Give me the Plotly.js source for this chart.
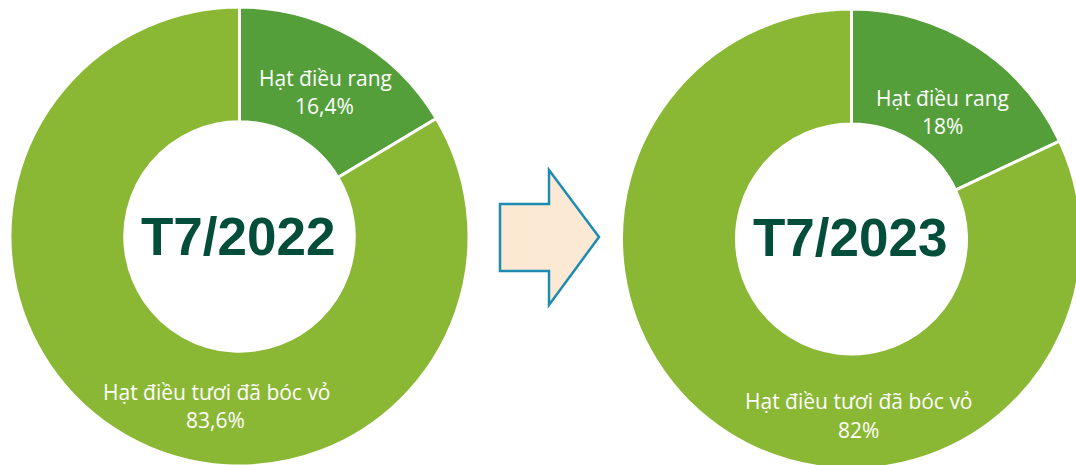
<!DOCTYPE html>
<html>
<head>
<meta charset="utf-8">
<script src="https://cdn.plot.ly/plotly-3.0.1.min.js"></script>
<style>
html, body { margin: 0; padding: 0; background: #ffffff; overflow: hidden; width: 1076px; height: 465px; }
#chart { width: 1084px; height: 472px; }
</style>
</head>
<body>
<div id="chart"></div>
<script>
// ---- data ----
const categories = ['Hạt điều rang', 'Hạt điều tươi đã bóc vỏ'];
const values2022 = [16.4, 83.6];
const values2023 = [18, 82];
const periodLabels = ['T7/2022', 'T7/2023'];
const sliceColors = ['#559F3B', '#8AB834'];

// ---- layout helpers (pixel -> paper) ----
const W = 1084, H = 472;
const px = x => x / W;
const py = y => 1 - y / H;
const fmt = v => String(v).replace('.', ',') + '%';

function donut(values, cx, cy, r) {
  return {
    type: 'pie',
    labels: categories,
    values: values,
    sort: false,
    direction: 'clockwise',
    rotation: 0,
    hole: 0.5,
    textinfo: 'none',
    hoverinfo: 'label+percent',
    showlegend: false,
    marker: { colors: sliceColors, line: { color: '#ffffff', width: 3 } },
    domain: { x: [px(cx - r), px(cx + r)], y: [py(cy + r), py(cy - r)] }
  };
}

const traces = [
  donut(values2022, 239.5, 236.5, 229.5),
  donut(values2023, 851.5, 239, 230)
];

const labelFont = { family: 'Open Sans, sans-serif', size: 21, color: '#ffffff' };
const centerFont = { family: 'Liberation Sans, Arial, sans-serif', size: 53, color: '#034E3A', weight: 700 };

function ann(text, x, y, font) {
  return { text: text, x: px(x), y: py(y), xref: 'paper', yref: 'paper',
           xanchor: 'center', yanchor: 'middle', showarrow: false, font: font };
}

const annotations = [
  ann(categories[0], 325, 78, labelFont),
  ann(fmt(values2022[0]), 324, 105.5, labelFont),
  ann(categories[1], 217, 391.5, labelFont),
  ann(fmt(values2022[1]), 215.5, 419.5, labelFont),
  ann(categories[0], 942.5, 98.5, labelFont),
  ann(fmt(values2023[0]), 942.5, 125.5, labelFont),
  ann(categories[1], 858.5, 400.5, labelFont),
  ann(fmt(values2023[1]), 858, 429.5, labelFont),
  ann(periodLabels[0], 237.5, 236.5, centerFont),
  ann(periodLabels[1], 849.7, 237.5, centerFont)
];

const arrowPts = [[500,204],[549,204],[549,170],[599,237],[549,305],[549,271],[500,271]];
const arrowPath = 'M ' + arrowPts.map(p => px(p[0]).toFixed(5) + ',' + py(p[1]).toFixed(5)).join(' L ') + ' Z';

const layout = {
  width: W, height: H,
  margin: { l: 0, r: 0, t: 0, b: 0, pad: 0 },
  paper_bgcolor: '#ffffff',
  plot_bgcolor: '#ffffff',
  showlegend: false,
  annotations: annotations,
  shapes: [{
    type: 'path', xref: 'paper', yref: 'paper', path: arrowPath,
    fillcolor: '#FBE9D3', line: { color: '#1E8BB2', width: 2.5 }
  }]
};

Plotly.newPlot('chart', traces, layout, { displayModeBar: false, staticPlot: true });
</script>
</body>
</html>
